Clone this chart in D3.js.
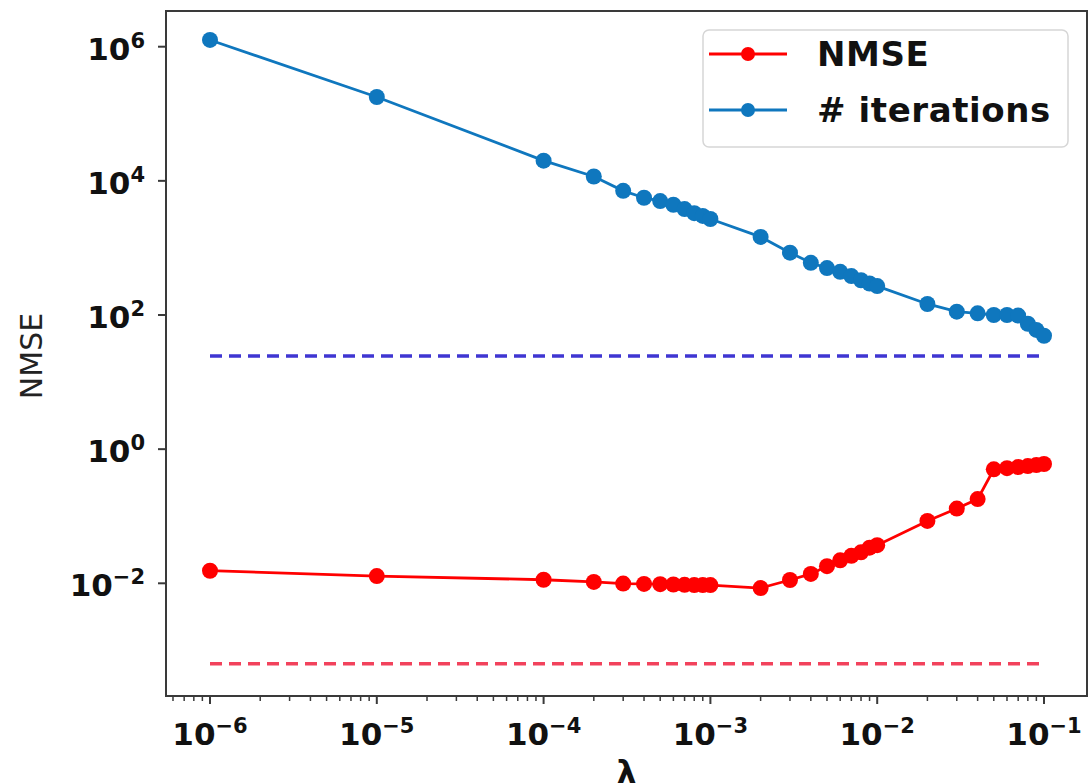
<!DOCTYPE html>
<html>
<head>
<meta charset="utf-8">
<script src="https://cdn.jsdelivr.net/npm/d3@7"></script>
<style>
  html, body { margin: 0; padding: 0; background: #fff; }
  svg { display: block; font-family: "DejaVu Sans", sans-serif; }
</style>
</head>
<body>
<svg id="chart" width="1091" height="783"></svg>
<script>
// ---- data ----
const lambdas = [1e-6, 1e-5, 1e-4, 2e-4, 3e-4, 4e-4, 5e-4, 6e-4, 7e-4, 8e-4, 9e-4, 1e-3,
                 2e-3, 3e-3, 4e-3, 5e-3, 6e-3, 7e-3, 8e-3, 9e-3, 1e-2,
                 2e-2, 3e-2, 4e-2, 5e-2, 6e-2, 7e-2, 8e-2, 9e-2, 1e-1];
const nmse = [0.0154, 0.0128, 0.0113, 0.0105, 0.0099, 0.0098, 0.0097, 0.0096, 0.0095, 0.0094, 0.0094, 0.0094,
              0.0085, 0.0112, 0.0138, 0.018, 0.022, 0.0257, 0.029, 0.034, 0.037,
              0.085, 0.13, 0.18, 0.50, 0.52, 0.54, 0.56, 0.58, 0.60];
const iterations = [1.26e6, 1.78e5, 2.0e4, 1.16e4, 7.1e3, 5.6e3, 5.0e3, 4.4e3, 3.8e3, 3.3e3, 3.0e3, 2.7e3,
                    1.46e3, 850, 600, 500, 440, 380, 330, 295, 270,
                    146, 112, 106, 100, 100, 98, 74, 60, 49];
const nmseBaseline = 6.3e-4;
const iterBaseline = 24.5;
const xTickExps = [-6, -5, -4, -3, -2, -1];
const yTickExps = [-2, 0, 2, 4, 6];
const seriesNames = ["NMSE", "# iterations"];
const yLabel = "NMSE";
const xLabel = "λ";

// ---- layout ----
const svg = d3.select("#chart");
const plot = { left: 166, right: 1087, top: 11, bottom: 696 };
const x = d3.scaleLog().domain([1e-6, 1e-1]).range([210, 1044]);
const y = d3.scaleLog().domain([1e-2, 1e6]).range([583.3, 46.7]);
const red = "#ff0000", blue = "#0f77be";

// dashed reference lines
svg.append("line")
  .attr("x1", x(lambdas[0])).attr("x2", x(lambdas[lambdas.length - 1]))
  .attr("y1", y(iterBaseline)).attr("y2", y(iterBaseline))
  .attr("stroke", "#3f36d2").attr("stroke-width", 3.5).attr("stroke-dasharray", "12,7");
svg.append("line")
  .attr("x1", x(lambdas[0])).attr("x2", x(lambdas[lambdas.length - 1]))
  .attr("y1", y(nmseBaseline)).attr("y2", y(nmseBaseline))
  .attr("stroke", "#f2425c").attr("stroke-width", 3.5).attr("stroke-dasharray", "12,7");

// series
function drawSeries(vals, color) {
  const pts = lambdas.map((l, i) => [l, vals[i]]);
  svg.append("path")
    .attr("d", d3.line().x(d => x(d[0])).y(d => y(d[1]))(pts))
    .attr("fill", "none").attr("stroke", color).attr("stroke-width", 2.8);
  svg.append("g").selectAll("circle").data(pts).join("circle")
    .attr("cx", d => x(d[0])).attr("cy", d => y(d[1])).attr("r", 8)
    .attr("fill", color);
}
drawSeries(nmse, red);
drawSeries(iterations, blue);

// frame
svg.append("rect")
  .attr("x", plot.left).attr("y", plot.top)
  .attr("width", plot.right - plot.left).attr("height", plot.bottom - plot.top)
  .attr("fill", "none").attr("stroke", "#3a3a3a").attr("stroke-width", 2);

// x ticks
const xMin = x.invert(plot.left), xMax = x.invert(plot.right);
const minor = [];
for (let e = -7; e <= 0; e++) for (let k = 2; k <= 9; k++) {
  const v = k * Math.pow(10, e);
  if (v > xMin && v < xMax) minor.push(v);
}
svg.append("g").selectAll("line").data(minor).join("line")
  .attr("x1", d => x(d)).attr("x2", d => x(d))
  .attr("y1", plot.bottom).attr("y2", plot.bottom + 5)
  .attr("stroke", "#3a3a3a").attr("stroke-width", 1.5);
svg.append("g").selectAll("line").data(xTickExps).join("line")
  .attr("x1", d => x(Math.pow(10, d))).attr("x2", d => x(Math.pow(10, d)))
  .attr("y1", plot.bottom).attr("y2", plot.bottom + 8)
  .attr("stroke", "#3a3a3a").attr("stroke-width", 2);
const xt = svg.append("g").selectAll("text").data(xTickExps).join("text")
  .attr("x", d => x(Math.pow(10, d))).attr("y", 745)
  .attr("text-anchor", "middle").attr("font-weight", "bold").attr("font-size", 31)
  .attr("fill", "#111");
xt.append("tspan").text("10");
xt.append("tspan").attr("font-size", 21).attr("dy", -12).text(d => "\u2212" + Math.abs(d));

// y ticks
svg.append("g").selectAll("line").data(yTickExps).join("line")
  .attr("x1", plot.left - 8).attr("x2", plot.left)
  .attr("y1", d => y(Math.pow(10, d))).attr("y2", d => y(Math.pow(10, d)))
  .attr("stroke", "#3a3a3a").attr("stroke-width", 2);
const yt = svg.append("g").selectAll("text").data(yTickExps).join("text")
  .attr("x", 145).attr("y", d => y(Math.pow(10, d)) + 13)
  .attr("text-anchor", "end").attr("font-weight", "bold").attr("font-size", 31)
  .attr("fill", "#111");
yt.append("tspan").text("10");
yt.append("tspan").attr("font-size", 21).attr("dy", -12)
  .text(d => (d < 0 ? "\u2212" : "") + Math.abs(d));

// axis labels
svg.append("text")
  .attr("transform", "translate(42,356) rotate(-90)")
  .attr("text-anchor", "middle").attr("font-size", 30).attr("fill", "#222")
  .text(yLabel);
svg.append("text")
  .attr("x", (plot.left + plot.right) / 2).attr("y", 783)
  .attr("text-anchor", "middle").attr("font-size", 31).attr("font-weight", "bold")
  .attr("fill", "#111").text(xLabel);

// legend
const lg = svg.append("g");
lg.append("rect").attr("x", 703).attr("y", 30).attr("width", 365).attr("height", 117)
  .attr("rx", 6).attr("fill", "#fff").attr("fill-opacity", 0.85)
  .attr("stroke", "#d6d6d6").attr("stroke-width", 1.5);
[[red, 54], [blue, 110]].forEach(([c, yy], i) => {
  lg.append("line").attr("x1", 709).attr("x2", 787).attr("y1", yy).attr("y2", yy)
    .attr("stroke", c).attr("stroke-width", 2.8);
  lg.append("circle").attr("cx", 748).attr("cy", yy).attr("r", 7).attr("fill", c);
  lg.append("text").attr("x", 817).attr("y", yy + 12)
    .attr("font-size", 34).attr("font-weight", "bold").attr("fill", "#111")
    .attr("letter-spacing", 0.6)
    .text(seriesNames[i]);
});
</script>
</body>
</html>
